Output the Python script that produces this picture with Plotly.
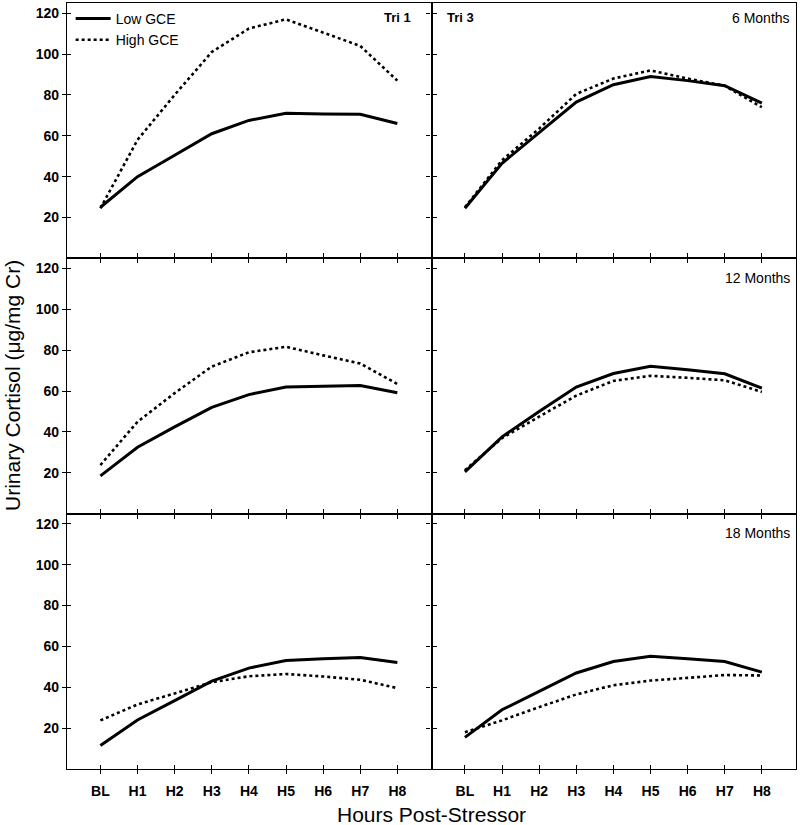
import plotly.graph_objects as go
from plotly.subplots import make_subplots

hours = ["BL", "H1", "H2", "H3", "H4", "H5", "H6", "H7", "H8"]
y_ticks = [20, 40, 60, 80, 100, 120]
series_names = ["Low GCE", "High GCE"]
col_labels = ["Tri 1", "Tri 3"]
row_labels = ["6 Months", "12 Months", "18 Months"]

tri1_6m_low = [25, 40, 50.5, 61, 67.5, 71, 70.7, 70.5, 66]
tri1_6m_high = [24.5, 58, 80, 101, 112.5, 117, 110.5, 104, 87]
tri3_6m_low = [24.5, 46.5, 61.5, 76.5, 85, 89, 87, 84.5, 76]
tri3_6m_high = [25, 48, 63.5, 80.5, 88, 92, 88, 84.5, 74]
tri1_12m_low = [18.5, 32.5, 42.5, 52, 58.3, 62, 62.4, 62.7, 59.2]
tri1_12m_high = [23.8, 45, 59, 72, 79, 81.7, 77.5, 73.5, 63.5]
tri3_12m_low = [20.5, 37.6, 50, 62, 68.6, 72.2, 70.5, 68.5, 61.5]
tri3_12m_high = [21.3, 37, 47.5, 57.8, 65, 67.5, 66.5, 65.3, 59.6]
tri1_18m_low = [11.5, 24, 33.5, 43, 49.4, 53.1, 54, 54.6, 52.1]
tri1_18m_high = [23.8, 31.6, 37, 42.5, 45.4, 46.5, 45.3, 43.7, 39.6]
tri3_18m_low = [15.5, 29, 38, 47, 52.6, 55.2, 54, 52.6, 47.4]
tri3_18m_high = [18, 23.8, 30.3, 36.5, 41, 43.3, 44.6, 46, 45.8]

panels = [
    [(tri1_6m_low, tri1_6m_high), (tri3_6m_low, tri3_6m_high)],
    [(tri1_12m_low, tri1_12m_high), (tri3_12m_low, tri3_12m_high)],
    [(tri1_18m_low, tri1_18m_high), (tri3_18m_low, tri3_18m_high)],
]

FONT = "Arial, Liberation Sans, sans-serif"
XR = [-0.9, 8.92]
YR = [0, 125]
LW = 1.3

fig = make_subplots(rows=3, cols=2, horizontal_spacing=0, vertical_spacing=0)

for r in range(3):
    for c in range(2):
        low, high = panels[r][c]
        first = (r == 0 and c == 0)
        fig.add_trace(go.Scatter(x=hours, y=low, mode="lines", name=series_names[0],
                                 line=dict(color="black", width=3),
                                 showlegend=first, legendgroup="low"), row=r + 1, col=c + 1)
        fig.add_trace(go.Scatter(x=hours, y=high, mode="lines", name=series_names[1],
                                 line=dict(color="black", width=2.6, dash="dot"),
                                 showlegend=first, legendgroup="high"), row=r + 1, col=c + 1)

tickfont = dict(family=FONT, size=14, color="black", weight="bold")

for r in range(3):
    for c in range(2):
        idx = r * 2 + c + 1
        xs = "xaxis" if idx == 1 else f"xaxis{idx}"
        ys = "yaxis" if idx == 1 else f"yaxis{idx}"
        fig.layout[xs].update(
            type="category", range=XR, showgrid=False, zeroline=False,
            showline=True, linecolor="black", linewidth=LW,
            mirror=("allticks" if r > 0 else True),
            ticks="outside", ticklen=4, tickwidth=1.1, tickcolor="black",
            showticklabels=(r == 2), tickfont=tickfont, ticklabelstandoff=5,
            categoryorder="array", categoryarray=hours,
        )
        fig.layout[ys].update(
            range=YR, showgrid=False, zeroline=False,
            showline=True, linecolor="black", linewidth=LW,
            mirror=("allticks" if c == 0 else True),
            ticks="outside", ticklen=4, tickwidth=1.1, tickcolor="black",
            tickvals=y_ticks, showticklabels=(c == 0), tickfont=tickfont,
        )

# overlay axes giving the inner half of crossing ticks on outer left / bottom edges
overlay_y = {7: ("x", "y"), 8: ("x3", "y3"), 9: ("x5", "y5")}
for n, (xa, ya) in overlay_y.items():
    fig.add_trace(go.Scatter(x=[None], y=[None], xaxis=xa, yaxis=f"y{n}",
                             showlegend=False, hoverinfo="skip"))
    fig.layout[f"yaxis{n}"] = dict(overlaying=ya, anchor=xa, side="left", range=YR,
                                   tickvals=y_ticks, ticks="inside", ticklen=4, tickwidth=1.1,
                                   tickcolor="black", showticklabels=False, showgrid=False,
                                   zeroline=False, showline=False)
overlay_x = {7: ("x5", "y5"), 8: ("x6", "y6")}
for n, (xa, ya) in overlay_x.items():
    fig.add_trace(go.Scatter(x=[None], y=[None], xaxis=f"x{n}", yaxis=ya,
                             showlegend=False, hoverinfo="skip"))
    fig.layout[f"xaxis{n}"] = dict(overlaying=xa, anchor=ya, side="bottom", range=XR,
                                   tickvals=list(range(len(hours))), ticks="inside", ticklen=4,
                                   tickwidth=1.1, tickcolor="black", showticklabels=False,
                                   showgrid=False, zeroline=False, showline=False)

annots = [
    dict(text="<b>" + col_labels[0] + "</b>", xref="x domain", yref="y domain", x=0.949, y=0.945,
         xanchor="right", yanchor="middle", font=dict(family=FONT, size=13, color="black")),
    dict(text="<b>" + col_labels[1] + "</b>", xref="x2 domain", yref="y2 domain", x=0.037, y=0.945,
         xanchor="left", yanchor="middle", font=dict(family=FONT, size=13, color="black")),
    dict(text=row_labels[0], xref="x2 domain", yref="y2 domain", x=0.989, y=0.94,
         xanchor="right", yanchor="middle", font=dict(family=FONT, size=14, color="black")),
    dict(text=row_labels[1], xref="x4 domain", yref="y4 domain", x=0.989, y=0.923,
         xanchor="right", yanchor="middle", font=dict(family=FONT, size=14, color="black")),
    dict(text=row_labels[2], xref="x6 domain", yref="y6 domain", x=0.989, y=0.926,
         xanchor="right", yanchor="middle", font=dict(family=FONT, size=14, color="black")),
    dict(text="Hours Post-Stressor", xref="paper", yref="paper", x=0.5, y=-0.059,
         xanchor="center", yanchor="middle", font=dict(family=FONT, size=21, color="black")),
    dict(text="Urinary Cortisol (\u03bcg/mg Cr)", xref="paper", yref="paper", x=-0.0754, y=0.5,
         xanchor="center", yanchor="middle", textangle=-90,
         font=dict(family=FONT, size=21, color="black")),
]
for a in annots:
    a["showarrow"] = False
fig.update_layout(annotations=annots)

fig.update_layout(
    width=800, height=825,
    margin=dict(l=67, r=4, t=3, b=56),
    paper_bgcolor="white", plot_bgcolor="white",
    font=dict(family=FONT, color="black"),
    legend=dict(x=0.005, y=1.0, xanchor="left", yanchor="top", bgcolor="rgba(0,0,0,0)",
                font=dict(family=FONT, size=14, color="black"), tracegroupgap=0,
                itemwidth=35),
)

fig.write_html("out.html", config={"displayModeBar": False},
               post_script="document.body.style.margin='0';document.body.style.overflow='hidden';")
